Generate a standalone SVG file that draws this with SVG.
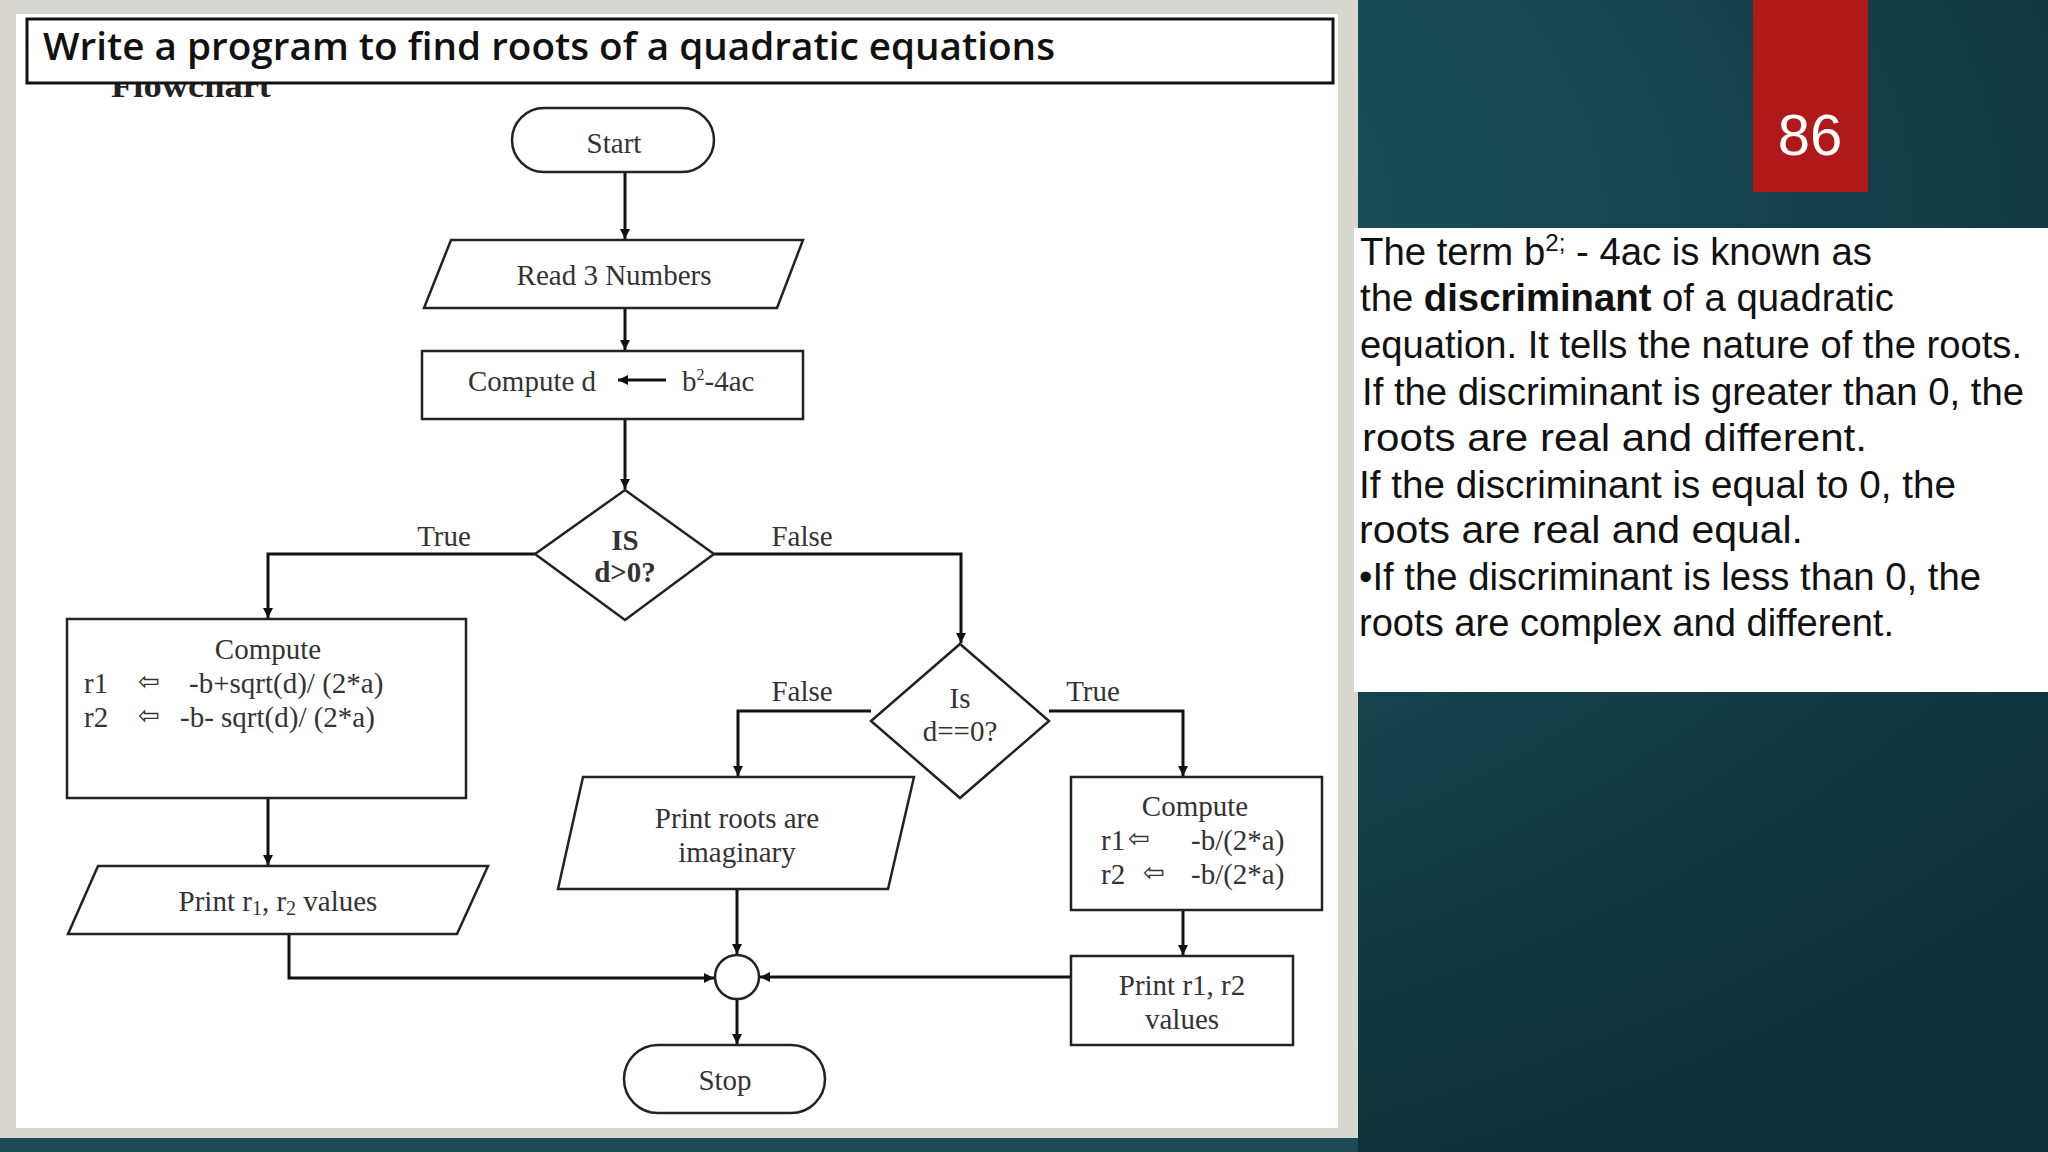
<svg xmlns="http://www.w3.org/2000/svg" width="2048" height="1152" viewBox="0 0 2048 1152">
<defs>
<marker id="ah" viewBox="0 0 10 10" refX="10" refY="5" markerWidth="10" markerHeight="10" markerUnits="userSpaceOnUse" orient="auto"><path d="M0,0 L10,5 L0,10 z" fill="#111"/></marker>
<radialGradient id="bg" cx="0.3" cy="0.2" r="0.9"><stop offset="0" stop-color="#23606a"/><stop offset="1" stop-color="#0e2f3a"/></radialGradient>
<style>
.s{fill:#fff;stroke:#222;stroke-width:2.5}
.c{fill:none;stroke:#111;stroke-width:3;marker-end:url(#ah)}
.t{font-family:"Liberation Serif",serif;font-size:29px;fill:#333}
.m{text-anchor:middle}
.a{font-family:"DejaVu Sans",sans-serif;font-size:26px;fill:#333}
.r{font-family:"Liberation Sans",sans-serif;font-size:38px;fill:#111}
</style>
</defs>
<rect width="2048" height="1152" fill="url(#bg)"/>
<rect x="0" y="0" width="1358" height="1152" fill="#d8d8d0"/>
<rect x="16" y="14" width="1322" height="1114" fill="#fff"/>
<rect x="0" y="1138" width="1358" height="14" fill="#1d4a55"/>
<rect x="1354" y="228" width="694" height="464" fill="#fff"/>
<g id="badge"><rect x="1753" y="0" width="115" height="192" fill="#b01919"/><text x="1810" y="155" font-family="Liberation Sans, sans-serif" font-size="58" fill="#fff" text-anchor="middle">86</text></g>
<text x="111" y="97" font-family="Liberation Serif, serif" font-weight="bold" font-size="34" fill="#222" textLength="160" lengthAdjust="spacingAndGlyphs">Flowchart</text>
<g id="title"><rect x="27" y="19" width="1306" height="64" fill="#fff" stroke="#111" stroke-width="3"/><text x="43" y="60" font-family="Open Sans, sans-serif" font-weight="600" font-size="37" fill="#111" textLength="1012" lengthAdjust="spacingAndGlyphs">Write a program to find roots of a quadratic equations</text></g>
<g id="connectors">
<path class="c" d="M625,172 V239"/>
<path class="c" d="M625,308 V350"/>
<path class="c" d="M625,419 V489"/>
<path class="c" d="M535,554 H268 V618"/>
<path class="c" d="M714,554 H961 V643"/>
<path class="c" d="M268,798 V865"/>
<path class="c" d="M289,934 V978 H714"/>
<path class="c" d="M871,711 H738 V776"/>
<path class="c" d="M1049,711 H1183 V776"/>
<path class="c" d="M737,889 V954"/>
<path class="c" d="M1183,910 V955"/>
<path class="c" d="M1071,977 H760"/>
<path class="c" d="M737,999 V1044"/>
</g>
<g class="t">
<text x="444" y="546" class="m">True</text>
<text x="802" y="546" class="m">False</text>
<text x="802" y="701" class="m">False</text>
<text x="1093" y="701" class="m">True</text>
</g>
<g id="start"><rect class="s" x="512" y="108" width="202" height="64" rx="32"/><text class="t m" x="614" y="153">Start</text></g>
<g id="read"><polygon class="s" points="451,240 803,240 777,308 424,308"/><text class="t m" x="614" y="285">Read 3 Numbers</text></g>
<g id="computed"><rect class="s" x="422" y="351" width="381" height="68"/><text class="t" x="468" y="391">Compute d</text><path d="M666,380 H618" stroke="#111" stroke-width="3" marker-end="url(#ah)"/><text class="t" x="682" y="391">b<tspan font-size="16" dy="-11">2</tspan><tspan dy="11">-4ac</tspan></text></g>
<g id="dec1"><polygon class="s" points="625,490 714,554 625,620 535,554"/><text class="t m" x="625" y="550" font-weight="bold" font-size="23">IS</text><text class="t m" x="625" y="582" font-weight="bold" font-size="23">d&gt;0?</text></g>
<g id="compute1"><rect class="s" x="67" y="619" width="399" height="179"/><text class="t m" x="268" y="659">Compute</text><text class="t" x="84" y="693">r1</text><text class="a" x="138" y="690">⇦</text><text class="t" x="189" y="693">-b+sqrt(d)/ (2*a)</text><text class="t" x="84" y="727">r2</text><text class="a" x="138" y="724">⇦</text><text class="t" x="180" y="727">-b- sqrt(d)/ (2*a)</text></g>
<g id="print1"><polygon class="s" points="98,866 488,866 457,934 68,934"/><text class="t m" x="278" y="911">Print r<tspan font-size="20" dy="4">1</tspan><tspan dy="-4">, r</tspan><tspan font-size="20" dy="4">2</tspan><tspan dy="-4"> values</tspan></text></g>
<g id="dec2"><polygon class="s" points="960,644 1049,721 960,798 871,721"/><text class="t m" x="960" y="708" font-size="21">Is</text><text class="t m" x="960" y="741" font-size="21">d==0?</text></g>
<g id="printimg"><polygon class="s" points="583,777 914,777 888,889 558,889"/><text class="t m" x="737" y="828">Print roots are</text><text class="t m" x="737" y="862">imaginary</text></g>
<g id="compute2"><rect class="s" x="1071" y="777" width="251" height="133"/><text class="t m" x="1195" y="816">Compute</text><text class="t" x="1101" y="850">r1</text><text class="a" x="1128" y="847">⇦</text><text class="t" x="1191" y="850">-b/(2*a)</text><text class="t" x="1101" y="884">r2</text><text class="a" x="1143" y="881">⇦</text><text class="t" x="1191" y="884">-b/(2*a)</text></g>
<g id="print2"><rect class="s" x="1071" y="956" width="222" height="89"/><text class="t m" x="1182" y="995">Print r1, r2</text><text class="t m" x="1182" y="1029">values</text></g>
<g id="join"><circle class="s" cx="737" cy="977" r="22"/></g>
<g id="stop"><rect class="s" x="624" y="1045" width="201" height="68" rx="34"/><text class="t m" x="725" y="1090">Stop</text></g>
<g id="notes" class="r">
<text x="1360" y="265" textLength="512" lengthAdjust="spacingAndGlyphs">The term b<tspan font-size="24" dy="-14">2;</tspan><tspan dy="14"> - 4ac is known as</tspan></text>
<text x="1360" y="311" textLength="534" lengthAdjust="spacingAndGlyphs">the <tspan font-weight="bold">discriminant</tspan> of a quadratic</text>
<text x="1360" y="358" textLength="662" lengthAdjust="spacingAndGlyphs">equation. It tells the nature of the roots.</text>
<text x="1362" y="405" textLength="662" lengthAdjust="spacingAndGlyphs">If the discriminant is greater than 0, the</text>
<text x="1362" y="451" textLength="505" lengthAdjust="spacingAndGlyphs">roots are real and different.</text>
<text x="1359" y="498" textLength="597" lengthAdjust="spacingAndGlyphs">If the discriminant is equal to 0, the</text>
<text x="1359" y="543" textLength="444" lengthAdjust="spacingAndGlyphs">roots are real and equal.</text>
<text x="1359" y="590" textLength="622" lengthAdjust="spacingAndGlyphs">•If the discriminant is less than 0, the</text>
<text x="1359" y="636" textLength="535" lengthAdjust="spacingAndGlyphs">roots are complex and different.</text>
</g>
</svg>
